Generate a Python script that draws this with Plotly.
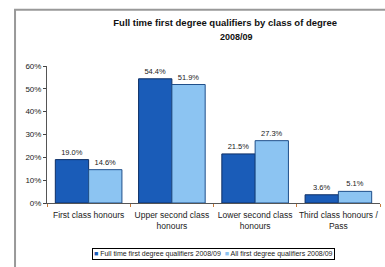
import plotly.graph_objects as go

categories = ["First class honours", "Upper second class<br>honours",
              "Lower second class<br>honours", "Third class honours /<br>Pass"]
series1_name = "Full time first degree qualifiers 2008/09"
series2_name = "All first degree qualifiers 2008/09"
series1 = [19.0, 54.4, 21.5, 3.6]
series2 = [14.6, 51.9, 27.3, 5.1]
tick_vals = [0, 10, 20, 30, 40, 50, 60]
tick_text = ["0%", "10%", "20%", "30%", "40%", "50%", "60%"]
title_line1 = "<b>Full time first degree qualifiers by class of degree</b>"
title_line2 = "<b>2008/09</b>"
color1 = "#1a5cb8"
color2 = "#8cc4f2"

fig = go.Figure()
fig.add_trace(go.Bar(x=categories, y=series1, name=series1_name,
                     marker=dict(color=color1, line=dict(color="#0d2f66", width=1)),
                     text=[f"{v:.1f}%" for v in series1], textposition="outside",
                     textfont=dict(size=7.5, color="#222"), cliponaxis=False))
fig.add_trace(go.Bar(x=categories, y=series2, name=series2_name,
                     marker=dict(color=color2, line=dict(color="#1f4f8a", width=1)),
                     text=[f"{v:.1f}%" for v in series2], textposition="outside",
                     textfont=dict(size=7.5, color="#222"), cliponaxis=False))

legend_text = (f'<span style="color:{color1}">■</span> {series1_name}  '
               f'<span style="color:{color2}">■</span> {series2_name}')

fig.update_layout(
    width=385, height=267,
    margin=dict(l=47, r=5, t=66, b=64),
    paper_bgcolor="white", plot_bgcolor="white",
    barmode="group", bargap=0.2, bargroupgap=0,
    title=dict(text=title_line1, x=0.585, xanchor="center", y=0.915, yanchor="middle",
               font=dict(size=9.5, color="#111", family="Liberation Sans, Arial")),
    font=dict(family="Liberation Sans, Arial", size=8, color="#222"),
    showlegend=False,
    annotations=[
        dict(text=title_line2, xref="paper", yref="paper", x=0.57, y=1.21,
             xanchor="center", yanchor="middle", showarrow=False,
             font=dict(size=9, color="#111")),
        dict(text=legend_text, xref="paper", yref="paper",
             x=0.5, y=-0.325, xanchor="center", yanchor="top",
             showarrow=False, bordercolor="#000", borderwidth=1,
             borderpad=1, bgcolor="white", font=dict(size=7, color="#222"))],
    xaxis=dict(showline=True, linecolor="#555", linewidth=1, ticks="outside",
               tickson="boundaries", ticklen=3, tickcolor="#c87b3a",
               tickfont=dict(size=8.5), tickangle=0, ticklabelstandoff=4),
    yaxis=dict(range=[0, 60], tickvals=tick_vals, ticktext=tick_text,
               showline=True, linecolor="#555", linewidth=1, ticks="outside",
               ticklen=3, showgrid=False, zeroline=False, tickfont=dict(size=8)),
    shapes=[dict(type="rect", xref="paper", yref="paper",
                 x0=-0.096, x1=1.05, y0=-0.6, y1=1.41,
                 line=dict(color="#999", width=2))],
)

fig.write_html("out.html", config={"displayModeBar": False},
               post_script="document.body.style.margin='0';")
